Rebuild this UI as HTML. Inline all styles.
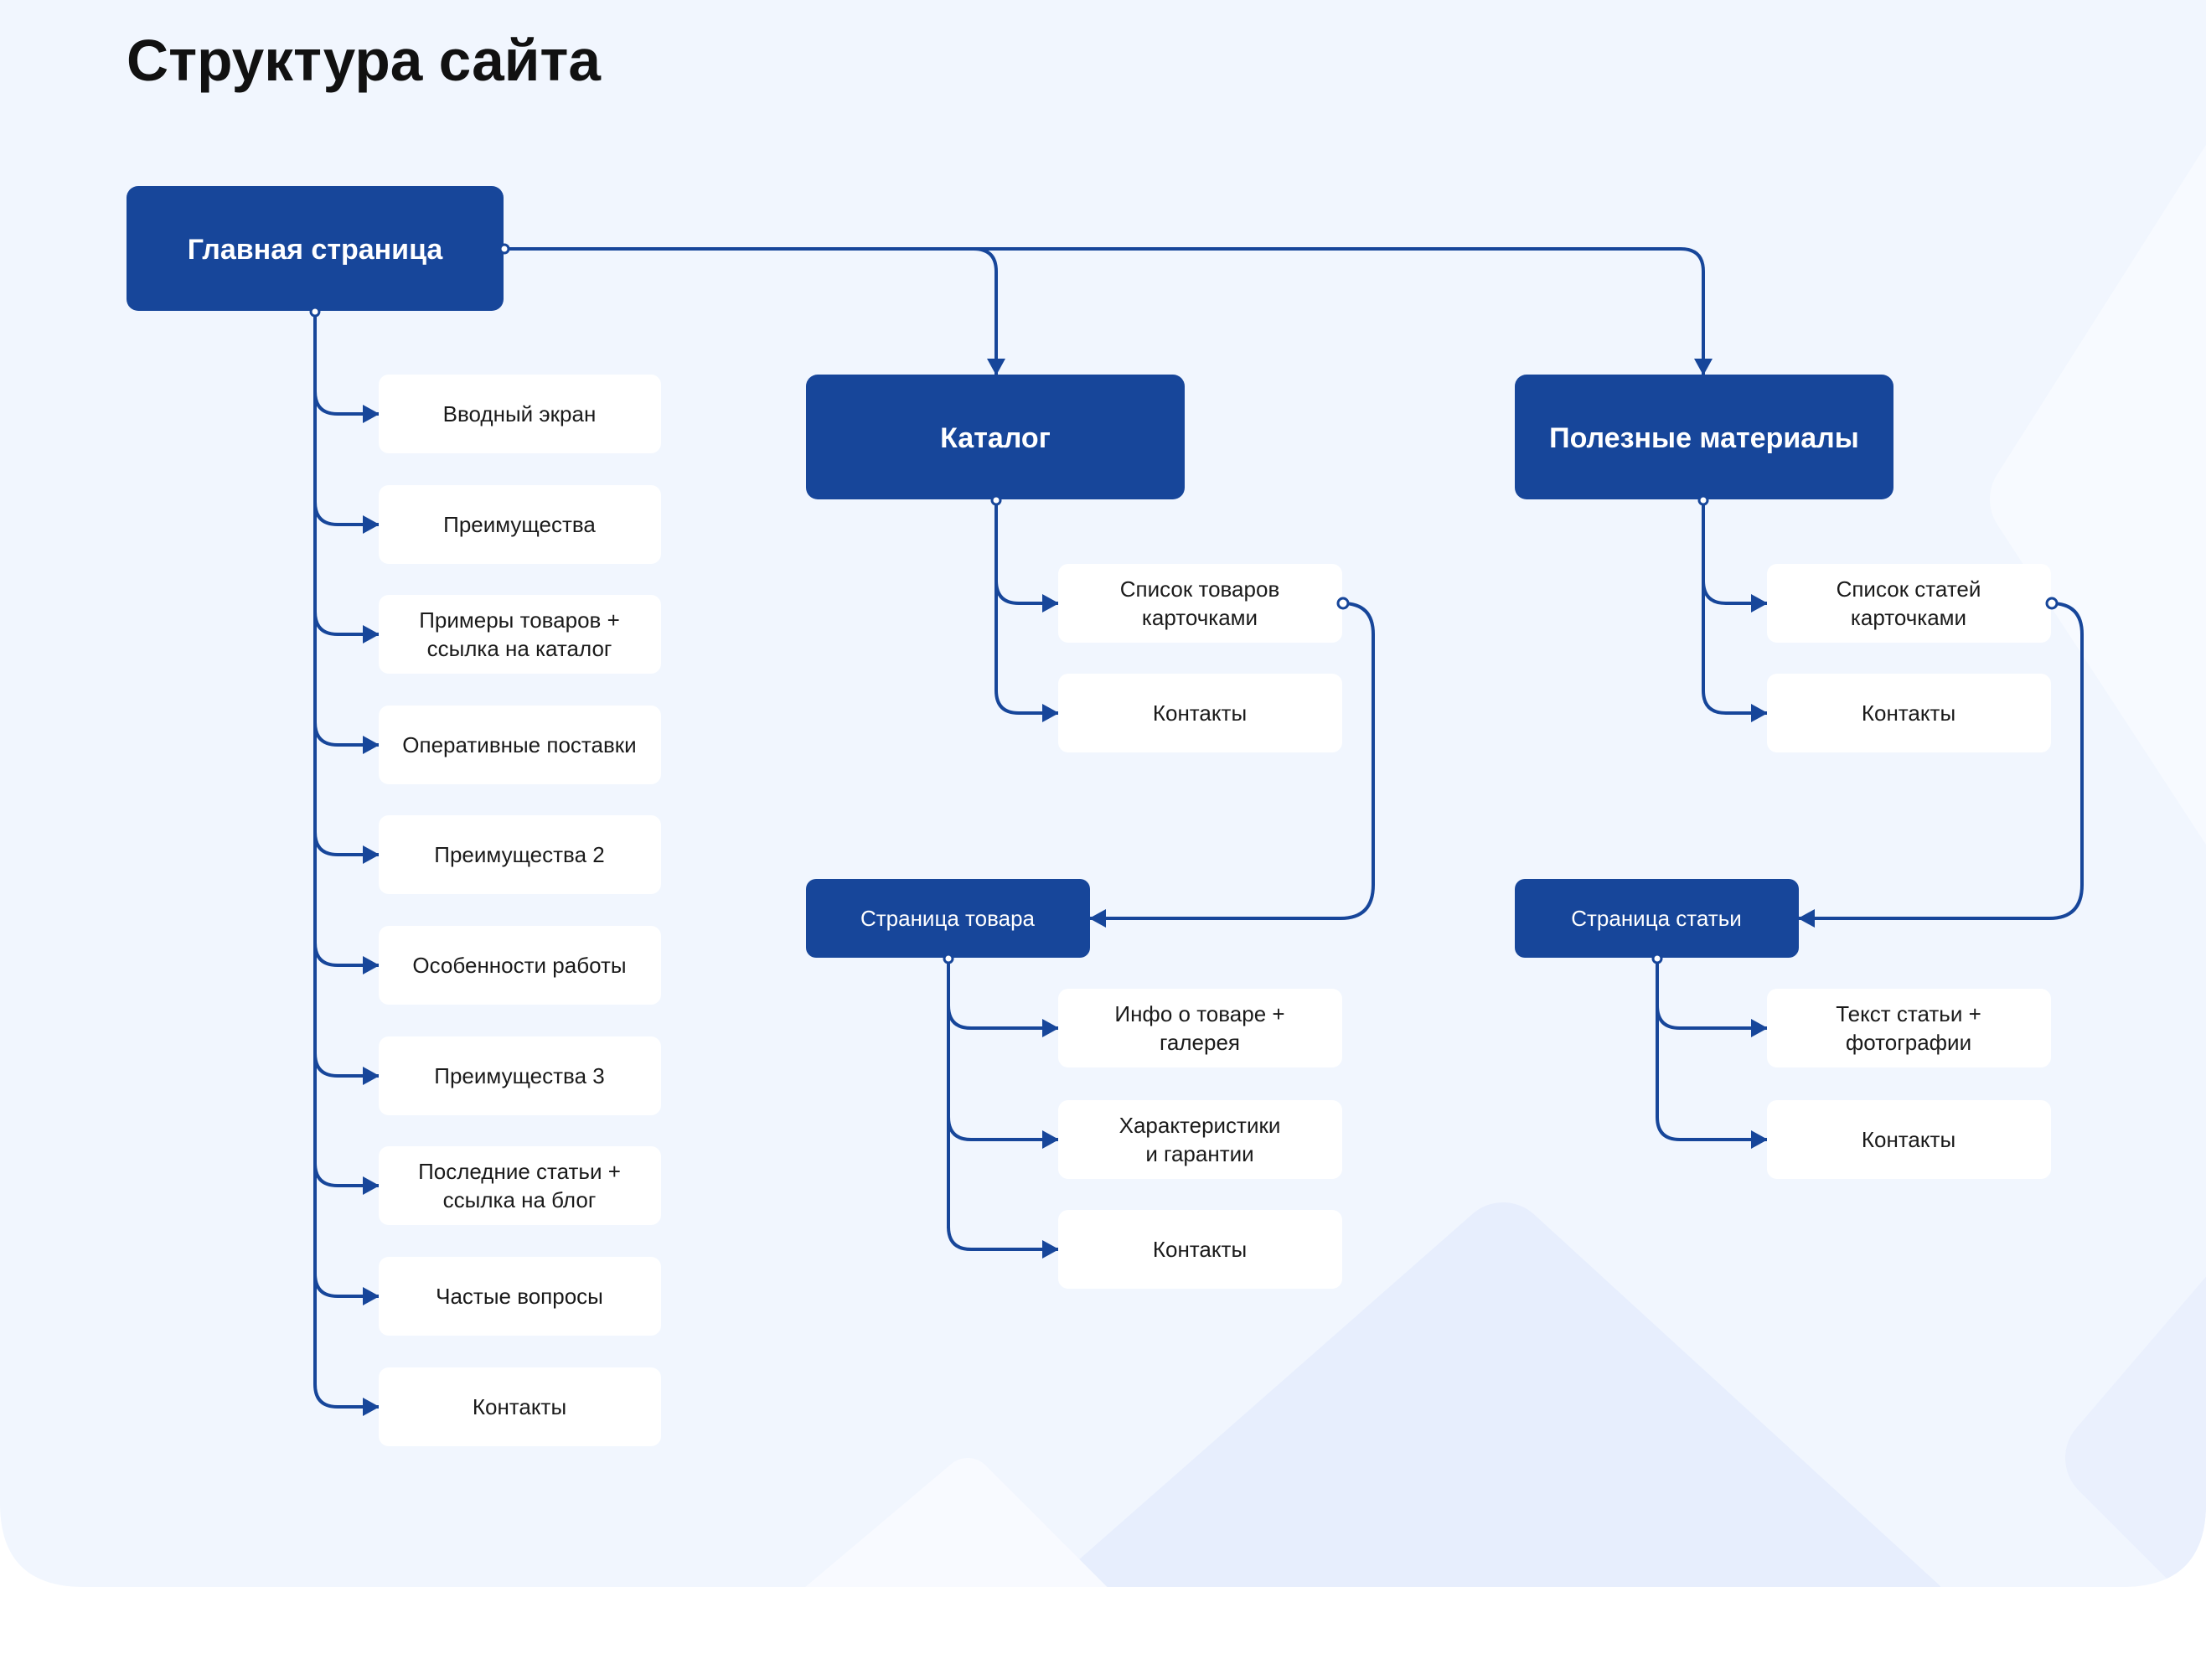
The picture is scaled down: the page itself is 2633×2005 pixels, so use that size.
<!DOCTYPE html>
<html><head><meta charset="utf-8"><style>
html,body{margin:0;padding:0;background:#fff;}
svg{display:block;}
text{font-family:"Liberation Sans","DejaVu Sans",sans-serif;}
</style></head><body>
<svg width="2633" height="2005" viewBox="0 0 2633 2005" xmlns="http://www.w3.org/2000/svg">
<defs>
<clipPath id="bgc"><path d="M0 0H2633V1794Q2633 1894 2533 1894H100Q0 1894 0 1794Z"/></clipPath>
<marker id="ar" viewBox="0 0 20 22" refX="19" refY="11" markerWidth="20" markerHeight="22" markerUnits="userSpaceOnUse" orient="auto"><path d="M0 0L20 11L0 22Z" fill="#17469a"/></marker>
</defs>
<path d="M0 0H2633V1794Q2633 1894 2533 1894H100Q0 1894 0 1794Z" fill="#f1f6fe"/>
<g clip-path="url(#bgc)" stroke-linejoin="round">
<polygon points="1293,1930 1794,1490 2275,1930" fill="#e7eefd" stroke="#e7eefd" stroke-width="110"/>
<polygon points="965,1930 1155,1770 1315,1930" fill="#f8faff" stroke="#f8faff" stroke-width="60"/>
<polygon points="2700,170 2430,596 2700,1010" fill="#f7faff" stroke="#f7faff" stroke-width="110"/>
<polygon points="2700,1530 2520,1740 2700,1920" fill="#eaf0fd" stroke="#eaf0fd" stroke-width="110"/>
</g>
<text x="151" y="96" font-size="70" font-weight="bold" fill="#111" textLength="566" lengthAdjust="spacingAndGlyphs">Структура сайта</text>

<g fill="none" stroke="#17469a" stroke-width="4">
<path d="M601 297H1162Q1189 297 1189 324V447" marker-end="url(#ar)"/>
<path d="M1160 297H2006Q2033 297 2033 324V447" marker-end="url(#ar)"/>
<path d="M376 372V1652"/>
<g marker-end="url(#ar)">
<path d="M376 467Q376 494 403 494H452"/>
<path d="M376 599Q376 626 403 626H452"/>
<path d="M376 730Q376 757 403 757H452"/>
<path d="M376 862Q376 889 403 889H452"/>
<path d="M376 993Q376 1020 403 1020H452"/>
<path d="M376 1125Q376 1152 403 1152H452"/>
<path d="M376 1257Q376 1284 403 1284H452"/>
<path d="M376 1388Q376 1415 403 1415H452"/>
<path d="M376 1520Q376 1547 403 1547H452"/>
<path d="M376 1652Q376 1679 403 1679H452"/>
</g>
<path d="M1189 596V824"/>
<g marker-end="url(#ar)">
<path d="M1189 693Q1189 720 1216 720H1263"/>
<path d="M1189 824Q1189 851 1216 851H1263"/>
</g>
<path d="M1602 720Q1639 720 1639 757V1056Q1639 1096 1600 1096H1301" marker-end="url(#ar)"/>
<path d="M1132 1143V1466"/>
<g marker-end="url(#ar)">
<path d="M1132 1200Q1132 1227 1159 1227H1263"/>
<path d="M1132 1333Q1132 1360 1159 1360H1263"/>
<path d="M1132 1464Q1132 1491 1159 1491H1263"/>
</g>
<path d="M2033 596V824"/>
<g marker-end="url(#ar)">
<path d="M2033 693Q2033 720 2060 720H2109"/>
<path d="M2033 824Q2033 851 2060 851H2109"/>
</g>
<path d="M2448 720Q2485 720 2485 757V1056Q2485 1096 2446 1096H2147" marker-end="url(#ar)"/>
<path d="M1978 1143V1333"/>
<g marker-end="url(#ar)">
<path d="M1978 1200Q1978 1227 2005 1227H2109"/>
<path d="M1978 1333Q1978 1360 2005 1360H2109"/>
</g>
</g>

<g fill="#17469a">
<rect x="151" y="222" width="450" height="149" rx="14"/>
<rect x="962" y="447" width="452" height="149" rx="14"/>
<rect x="1808" y="447" width="452" height="149" rx="14"/>
<rect x="962" y="1049" width="339" height="94" rx="12"/>
<rect x="1808" y="1049" width="339" height="94" rx="12"/>
</g>
<g fill="#fff" font-weight="bold" font-size="34" text-anchor="middle">
<text x="376" y="309">Главная страница</text>
<text x="1188" y="534">Каталог</text>
<text x="2034" y="534">Полезные материалы</text>
</g>
<g fill="#fff" font-size="26" text-anchor="middle">
<text x="1131" y="1105">Страница товара</text>
<text x="1977" y="1105">Страница статьи</text>
</g>

<g fill="#fff">
<rect x="452" y="447" width="337" height="94" rx="12"/>
<rect x="452" y="579" width="337" height="94" rx="12"/>
<rect x="452" y="710" width="337" height="94" rx="12"/>
<rect x="452" y="842" width="337" height="94" rx="12"/>
<rect x="452" y="973" width="337" height="94" rx="12"/>
<rect x="452" y="1105" width="337" height="94" rx="12"/>
<rect x="452" y="1237" width="337" height="94" rx="12"/>
<rect x="452" y="1368" width="337" height="94" rx="12"/>
<rect x="452" y="1500" width="337" height="94" rx="12"/>
<rect x="452" y="1632" width="337" height="94" rx="12"/>
<rect x="1263" y="673" width="339" height="94" rx="12"/>
<rect x="1263" y="804" width="339" height="94" rx="12"/>
<rect x="1263" y="1180" width="339" height="94" rx="12"/>
<rect x="1263" y="1313" width="339" height="94" rx="12"/>
<rect x="1263" y="1444" width="339" height="94" rx="12"/>
<rect x="2109" y="673" width="339" height="94" rx="12"/>
<rect x="2109" y="804" width="339" height="94" rx="12"/>
<rect x="2109" y="1180" width="339" height="94" rx="12"/>
<rect x="2109" y="1313" width="339" height="94" rx="12"/>
</g>
<g fill="#1a1a1a" font-size="26" text-anchor="middle">
<text x="620" y="503">Вводный экран</text>
<text x="620" y="635">Преимущества</text>
<text x="620" y="749">Примеры товаров +</text>
<text x="620" y="783">ссылка на каталог</text>
<text x="620" y="898">Оперативные поставки</text>
<text x="620" y="1029">Преимущества 2</text>
<text x="620" y="1161">Особенности работы</text>
<text x="620" y="1293">Преимущества 3</text>
<text x="620" y="1407">Последние статьи +</text>
<text x="620" y="1441">ссылка на блог</text>
<text x="620" y="1556">Частые вопросы</text>
<text x="620" y="1688">Контакты</text>
<text x="1432" y="712">Список товаров</text>
<text x="1432" y="746">карточками</text>
<text x="1432" y="860">Контакты</text>
<text x="1432" y="1219">Инфо о товаре +</text>
<text x="1432" y="1253">галерея</text>
<text x="1432" y="1352">Характеристики</text>
<text x="1432" y="1386">и гарантии</text>
<text x="1432" y="1500">Контакты</text>
<text x="2278" y="712">Список статей</text>
<text x="2278" y="746">карточками</text>
<text x="2278" y="860">Контакты</text>
<text x="2278" y="1219">Текст статьи +</text>
<text x="2278" y="1253">фотографии</text>
<text x="2278" y="1369">Контакты</text>
</g>

<g fill="#fff" stroke="#17469a" stroke-width="3">
<circle cx="602" cy="297" r="5"/>
<circle cx="376" cy="372" r="5"/>
<circle cx="1189" cy="597" r="5"/>
<circle cx="2033" cy="597" r="5"/>
<circle cx="1132" cy="1144" r="5"/>
<circle cx="1978" cy="1144" r="5"/>
<circle cx="1603" cy="720" r="6"/>
<circle cx="2449" cy="720" r="6"/>
</g>
</svg>
</body></html>
